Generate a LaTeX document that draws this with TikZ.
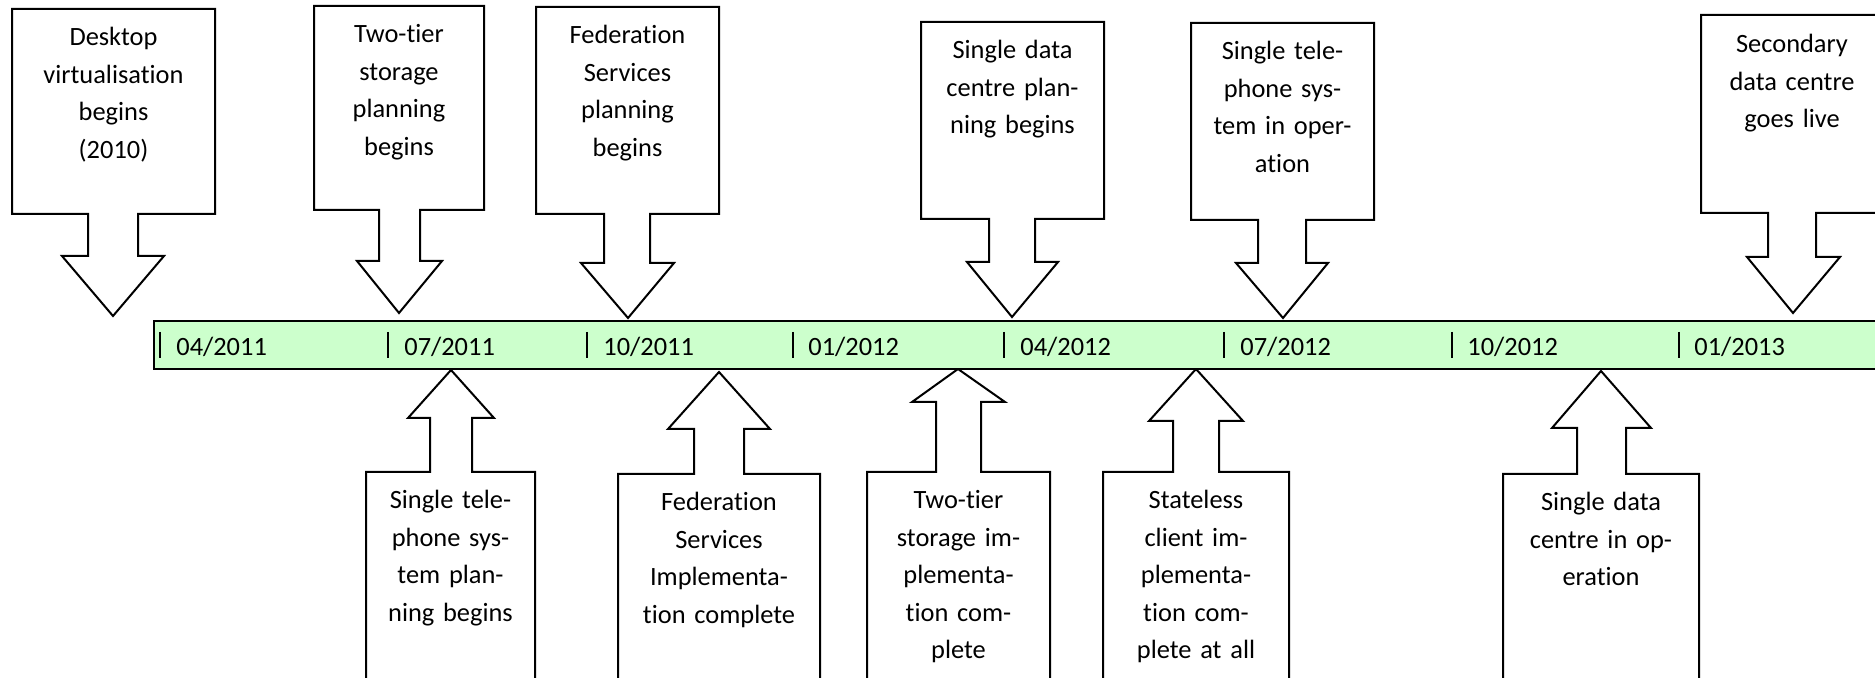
\documentclass[tikz,border=0pt]{standalone}
\usepackage{fontspec}
\setmainfont[Ligatures=NoCommon]{Carlito}
\definecolor{bargreen}{RGB}{204,255,204}
\begin{document}
\begin{tikzpicture}[x=0.5pt,y=-0.5pt]
		\tikzset{callout/.style = {draw, line width=1pt, fill=white},
			boxtext/.style = {anchor=base, align=center, text width=104pt, inner sep=0pt, font=\fontsize{13.2}{18.8}\selectfont},
			datelbl/.style = {anchor=base west, inner sep=0pt, font=\fontsize{13.2}{16}\selectfont},
			tickline/.style = {line width=0.6pt}}

		\useasboundingbox (0,0) rectangle (1875,678);

		\draw[callout] (12,9) -- (215,9) -- (215,214) -- (138,214) -- (138,256) -- (164,256) -- (113,316) -- (62,256) -- (88,256) -- (88,214) -- (12,214) -- cycle;
		\draw[callout] (314,6) -- (484,6) -- (484,210) -- (420,210) -- (420,261) -- (442,261) -- (399,313) -- (357,261) -- (379,261) -- (379,210) -- (314,210) -- cycle;
		\draw[callout] (536,7) -- (719,7) -- (719,214) -- (650,214) -- (650,263) -- (674,263) -- (628,318) -- (581,263) -- (604,263) -- (604,214) -- (536,214) -- cycle;
		\draw[callout] (921,22) -- (1104,22) -- (1104,219) -- (1035,219) -- (1035,262) -- (1058,262) -- (1012,317) -- (967,262) -- (989,262) -- (989,219) -- (921,219) -- cycle;
		\draw[callout] (1191,23) -- (1374,23) -- (1374,220) -- (1306,220) -- (1306,263) -- (1328,263) -- (1283,318) -- (1236,263) -- (1258,263) -- (1258,220) -- (1191,220) -- cycle;
		\draw[callout] (1701,15) -- (1885,15) -- (1885,213) -- (1816,213) -- (1816,257) -- (1840,257) -- (1793,313) -- (1747,257) -- (1768,257) -- (1768,213) -- (1701,213) -- cycle;

		\draw[callout] (366,690) -- (366,472) -- (430,472) -- (430,418) -- (408,418) -- (451,370) -- (494,418) -- (472,418) -- (472,472) -- (535,472) -- (535,690);
		\draw[callout] (618,690) -- (618,474) -- (694,474) -- (694,429) -- (668,429) -- (719,372) -- (770,429) -- (744,429) -- (744,474) -- (820,474) -- (820,690);
		\draw[callout] (867,690) -- (867,472) -- (936,472) -- (936,402) -- (912,402) -- (958,369) -- (1005,402) -- (981,402) -- (981,472) -- (1050,472) -- (1050,690);
		\draw[callout] (1103,690) -- (1103,472) -- (1173,472) -- (1173,421) -- (1149,421) -- (1196,369) -- (1243,421) -- (1219,421) -- (1219,472) -- (1289,472) -- (1289,690);
		\draw[callout] (1503,690) -- (1503,474) -- (1577,474) -- (1577,428) -- (1552,428) -- (1601,371) -- (1651,428) -- (1626,428) -- (1626,474) -- (1699,474) -- (1699,690);

		\node[boxtext] (T_1) at (113.5,45.5) {Desktop\\virtualisation\\begins\\(2010)};
		\node[boxtext] (T_2) at (399,42.5) {Two-tier\\storage\\planning\\begins};
		\node[boxtext] (T_3) at (627.5,43.5) {Federation\\Services\\planning\\begins};
		\node[boxtext] (T_4) at (1012.5,58.5) {Single data\\centre plan-\\ning begins};
		\node[boxtext] (T_5) at (1282.5,59.5) {Single tele-\\phone sys-\\tem in oper-\\ation};
		\node[boxtext] (T_6) at (1792,52.5) {Secondary\\data centre\\goes live};

		\node[boxtext] (B_1) at (450.5,508.5) {Single tele-\\phone sys-\\tem plan-\\ning begins};
		\node[boxtext] (B_2) at (719,510.5) {Federation\\Services\\Implementa-\\tion complete};
		\node[boxtext] (B_3) at (958.5,508.5) {Two-tier\\storage im-\\plementa-\\tion com-\\plete};
		\node[boxtext] (B_4) at (1196,508.5) {Stateless\\client im-\\plementa-\\tion com-\\plete at all};
		\node[boxtext] (B_5) at (1601,510.5) {Single data\\centre in op-\\eration};

		\draw[line width=1pt, fill=bargreen] (154,321) rectangle (1890,369);

		\draw[tickline] (160,332) -- (160,358);
		\draw[tickline] (388,332) -- (388,358);
		\draw[tickline] (587,332) -- (587,358);
		\draw[tickline] (793,332) -- (793,358);
		\draw[tickline] (1004,332) -- (1004,358);
		\draw[tickline] (1224,332) -- (1224,358);
		\draw[tickline] (1452,332) -- (1452,358);
		\draw[tickline] (1679,332) -- (1679,358);

		\node[datelbl] (M_1) at (176,356) {04/2011};
		\node[datelbl] (M_2) at (404,356) {07/2011};
		\node[datelbl] (M_3) at (603,356) {10/2011};
		\node[datelbl] (M_4) at (808,356) {01/2012};
		\node[datelbl] (M_5) at (1020,356) {04/2012};
		\node[datelbl] (M_6) at (1240,356) {07/2012};
		\node[datelbl] (M_7) at (1467,356) {10/2012};
		\node[datelbl] (M_8) at (1694,356) {01/2013};

	\end{tikzpicture}
\end{document}
